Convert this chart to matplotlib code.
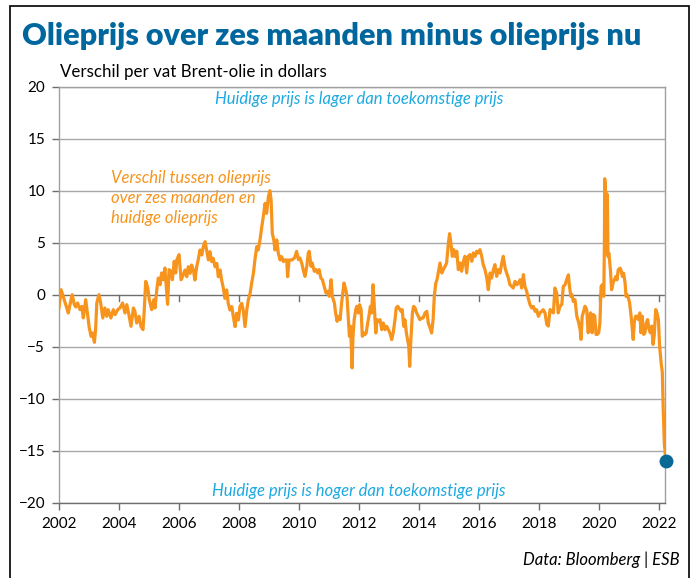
import matplotlib
matplotlib.use("Agg")
import matplotlib.pyplot as plt
from matplotlib.patches import Rectangle

# difference (USD/barrel) between 6-month Brent futures and spot
years = [
    2002.00, 2002.07, 2002.14, 2002.26, 2002.31, 2002.40, 2002.44, 2002.51, 2002.56, 2002.62,
    2002.70, 2002.76, 2002.81, 2002.89, 2002.96, 2003.01, 2003.07, 2003.12, 2003.18, 2003.22,
    2003.26, 2003.33, 2003.39, 2003.46, 2003.53, 2003.59, 2003.64, 2003.73, 2003.81, 2003.87,
    2003.96, 2004.03, 2004.12, 2004.20, 2004.26, 2004.33, 2004.40, 2004.48, 2004.53, 2004.59,
    2004.67, 2004.73, 2004.80, 2004.84, 2004.89, 2004.96, 2005.01, 2005.09, 2005.16, 2005.20,
    2005.26, 2005.31, 2005.37, 2005.42, 2005.48, 2005.53, 2005.62, 2005.67, 2005.73, 2005.78,
    2005.84, 2005.89, 2005.93, 2006.00, 2006.07, 2006.14, 2006.20, 2006.26, 2006.31, 2006.37,
    2006.42, 2006.48, 2006.53, 2006.59, 2006.64, 2006.70, 2006.76, 2006.81, 2006.87, 2006.92,
    2006.98, 2007.03, 2007.09, 2007.14, 2007.20, 2007.26, 2007.31, 2007.37, 2007.42, 2007.48,
    2007.53, 2007.59, 2007.64, 2007.70, 2007.76, 2007.81, 2007.87, 2007.92, 2007.98, 2008.03,
    2008.09, 2008.14, 2008.20, 2008.26, 2008.31, 2008.37, 2008.42, 2008.48, 2008.53, 2008.59,
    2008.64, 2008.70, 2008.76, 2008.81, 2008.87, 2008.92, 2008.98, 2009.03, 2009.07, 2009.11,
    2009.16, 2009.20, 2009.26, 2009.31, 2009.37, 2009.42, 2009.48, 2009.53, 2009.59, 2009.62,
    2009.67, 2009.76, 2009.84, 2009.87, 2009.92, 2009.98, 2010.03, 2010.09, 2010.14, 2010.20,
    2010.26, 2010.31, 2010.34, 2010.40, 2010.44, 2010.51, 2010.56, 2010.62, 2010.67, 2010.73,
    2010.78, 2010.84, 2010.90, 2010.96, 2011.01, 2011.07, 2011.11, 2011.18, 2011.22, 2011.27,
    2011.31, 2011.37, 2011.42, 2011.46, 2011.50, 2011.56, 2011.60, 2011.64, 2011.68, 2011.72,
    2011.77, 2011.80, 2011.84, 2011.89, 2011.93, 2011.98, 2012.02, 2012.07, 2012.11, 2012.16,
    2012.20, 2012.24, 2012.29, 2012.33, 2012.38, 2012.42, 2012.47, 2012.51, 2012.56, 2012.60,
    2012.64, 2012.70, 2012.76, 2012.81, 2012.87, 2012.92, 2012.98, 2013.03, 2013.09, 2013.14,
    2013.20, 2013.24, 2013.29, 2013.33, 2013.40, 2013.44, 2013.49, 2013.53, 2013.58, 2013.62,
    2013.66, 2013.69, 2013.73, 2013.78, 2013.82, 2013.87, 2013.92, 2013.98, 2014.03, 2014.09,
    2014.14, 2014.20, 2014.26, 2014.31, 2014.37, 2014.42, 2014.47, 2014.51, 2014.56, 2014.60,
    2014.64, 2014.70, 2014.76, 2014.81, 2014.87, 2014.92, 2014.98, 2015.02, 2015.07, 2015.11,
    2015.16, 2015.20, 2015.26, 2015.31, 2015.37, 2015.42, 2015.48, 2015.53, 2015.59, 2015.64,
    2015.70, 2015.76, 2015.81, 2015.87, 2015.92, 2015.98, 2016.03, 2016.09, 2016.14, 2016.20,
    2016.26, 2016.31, 2016.37, 2016.42, 2016.48, 2016.53, 2016.59, 2016.64, 2016.70, 2016.76,
    2016.81, 2016.87, 2016.92, 2016.98, 2017.03, 2017.09, 2017.14, 2017.20, 2017.26, 2017.31,
    2017.37, 2017.42, 2017.48, 2017.53, 2017.59, 2017.64, 2017.70, 2017.76, 2017.81, 2017.87,
    2017.92, 2017.98, 2018.03, 2018.09, 2018.14, 2018.20, 2018.26, 2018.31, 2018.37, 2018.42,
    2018.48, 2018.53, 2018.59, 2018.64, 2018.70, 2018.76, 2018.81, 2018.87, 2018.92, 2018.98,
    2019.01, 2019.06, 2019.10, 2019.14, 2019.20, 2019.26, 2019.31, 2019.37, 2019.40, 2019.44,
    2019.49, 2019.53, 2019.59, 2019.64, 2019.68, 2019.72, 2019.77, 2019.81, 2019.86, 2019.90,
    2019.94, 2019.99, 2020.03, 2020.07, 2020.11, 2020.16, 2020.18, 2020.19, 2020.21, 2020.22,
    2020.24, 2020.26, 2020.28, 2020.30, 2020.33, 2020.38, 2020.42, 2020.47, 2020.51, 2020.56,
    2020.60, 2020.64, 2020.70, 2020.73, 2020.78, 2020.82, 2020.87, 2020.90, 2020.93, 2020.98,
    2021.02, 2021.07, 2021.11, 2021.14, 2021.18, 2021.22, 2021.27, 2021.31, 2021.36, 2021.40,
    2021.44, 2021.49, 2021.53, 2021.58, 2021.62, 2021.67, 2021.71, 2021.76, 2021.80, 2021.84,
    2021.89, 2021.93, 2021.98, 2022.02, 2022.07, 2022.11, 2022.14, 2022.18, 2022.20, 2022.22,
]
spread = [
    -1.25, 0.51, -0.13, -1.25, -1.73, -0.45, 0.03, -0.93, -1.15, -0.77,
    -1.41, -1.09, -2.21, -0.45, -2.05, -3.17, -3.97, -3.65, -4.55, -3.33,
    -0.77, 0.03, -0.77, -2.21, -1.25, -2.05, -1.41, -2.21, -1.41, -1.89,
    -1.41, -1.25, -0.77, -1.73, -0.93, -1.89, -3.01, -1.25, -1.57, -2.69,
    -2.05, -3.01, -3.33, -1.57, 1.31, 0.67, -0.45, -1.41, -0.45, -1.25,
    0.51, 1.63, 0.99, 2.12, 1.47, 2.60, -0.90, 2.44, 2.28, 1.47,
    3.24, 2.12, 3.40, 3.88, 1.47, 1.92, 2.40, 1.76, 2.72, 2.08,
    2.88, 2.40, 1.44, 2.72, 3.37, 4.33, 3.85, 4.65, 5.13, 4.33,
    3.37, 4.17, 3.21, 3.53, 2.72, 3.04, 1.76, 2.40, 1.44, 0.64,
    -0.32, 0.48, -0.80, -1.44, -1.12, -2.08, -3.04, -1.76, -2.40, -1.12,
    -0.80, -1.44, -3.04, -1.44, -0.48, 0.16, 1.12, 2.08, 3.37, 4.65,
    4.33, 5.29, 6.57, 7.53, 8.81, 7.85, 9.46, 10.03, 9.13, 5.93,
    5.29, 4.33, 5.29, 4.01, 3.37, 3.69, 3.21, 3.37, 3.37, 1.76,
    3.37, 3.37, 3.53, 3.72, 4.20, 3.40, 3.56, 3.08, 2.44, 1.79,
    2.76, 4.04, 4.20, 2.76, 3.08, 2.28, 2.44, 2.12, 2.44, 1.63,
    1.47, 0.83, 0.19, 0.35, -0.13, 1.47, -0.13, -0.77, -1.73, -2.53,
    -2.05, -2.37, -0.77, 0.19, 1.15, 0.51, -0.13, -2.05, -3.97, -3.01,
    -7.01, -3.97, -2.37, -1.41, -1.09, -1.73, -0.93, -1.41, -3.97, -3.65,
    -3.81, -3.65, -2.69, -2.05, -1.09, -1.73, 0.99, -1.09, -3.65, -2.37,
    -2.53, -2.37, -3.33, -2.69, -3.33, -3.01, -3.33, -3.65, -4.29, -3.65,
    -2.37, -1.25, -1.09, -1.25, -1.57, -1.41, -3.01, -2.37, -3.65, -4.29,
    -4.94, -6.86, -4.29, -1.73, -1.09, -1.25, -1.73, -2.05, -2.37, -2.21,
    -2.21, -1.73, -1.57, -2.69, -3.17, -3.65, -2.37, -0.13, 1.15, 1.47,
    2.12, 3.08, 2.12, 2.44, 2.76, 3.08, 5.00, 5.90, 4.84, 3.72,
    4.36, 3.72, 4.20, 2.44, 3.08, 2.28, 3.24, 3.72, 2.12, 3.72,
    3.88, 3.24, 4.04, 3.72, 4.20, 4.04, 4.36, 3.72, 2.92, 2.44,
    1.63, 0.51, 2.12, 1.63, 2.44, 2.92, 1.79, 2.44, 2.12, 3.08,
    3.72, 2.60, 2.12, 1.63, 0.99, 0.83, 0.67, 1.31, 0.99, 1.15,
    1.47, 0.67, 1.96, 0.83, 0.35, -0.29, -0.93, -1.25, -1.09, -1.57,
    -1.41, -2.05, -1.73, -1.57, -1.41, -1.72, -2.83, -2.99, -1.40, -1.56,
    -1.72, 0.67, 0.19, -1.72, -1.08, -0.92, 0.83, 0.99, 1.46, 1.94,
    0.99, -0.13, 0.03, -0.61, -0.45, -2.04, -2.52, -3.31, -4.27, -2.04,
    -1.56, -1.08, -1.40, -3.63, -2.04, -1.72, -3.63, -1.88, -2.04, -3.79,
    -3.79, -3.63, -2.68, 0.83, 0.99, -0.13, 5.00, 11.18, 10.50, 4.00,
    8.00, 9.75, 9.50, 3.69, 4.01, 2.42, 0.51, 1.15, 1.46, 1.78,
    1.46, 2.42, 2.58, 2.42, 1.78, 2.10, 1.15, -0.13, 0.03, -0.29,
    -0.76, -2.04, -3.31, -4.27, -2.52, -2.04, -2.04, -2.36, -1.72, -3.63,
    -2.04, -3.79, -3.63, -2.68, -2.36, -3.31, -3.63, -2.99, -4.75, -3.95,
    -1.40, -1.72, -2.36, -4.90, -6.50, -7.45, -10.96, -14.46, -14.94, -15.99,
]
xticks = [2002, 2004, 2006, 2008, 2010, 2012, 2014, 2016, 2018, 2020, 2022]
yticks = [-20, -15, -10, -5, 0, 5, 10, 15, 20]

orange = '#f7941d'
darkblue = '#00679e'
lightblue = '#1ea9e1'
plt.rcParams['font.family'] = ['Lato', 'DejaVu Sans']

fig = plt.figure(figsize=(6.96, 5.78), dpi=100)
ax = fig.add_axes([59/696, 1-503/578, 606/696, 416/578])

ax.plot(years, spread, color=orange, lw=2.3, solid_joinstyle='round', zorder=3)
ax.plot(years[-1], spread[-1], 'o', color='#0a6894', ms=9, zorder=4, clip_on=False)

ax.set_xlim(2002, 2022.2)
ax.set_ylim(-20, 20)
ax.set_xticks(xticks)
ax.set_yticks(yticks)
ax.set_yticklabels([str(v).replace('-', '\u2212') for v in yticks])
for v in yticks:
    ax.axhline(v, color='#6e6e6e' if v == 0 else '#a8a8a8', lw=1.0, zorder=1)
# small ticks hanging under the zero line
for t in xticks:
    ax.plot([t, t], [0, -0.55], color='#6e6e6e', lw=1.0, zorder=1)
for s in ax.spines.values():
    s.set_color('#a0a0a0')
    s.set_linewidth(1.0)
ax.spines['bottom'].set_color('#6e6e6e')
ax.tick_params(axis='both', colors='#6e6e6e', length=5, width=1.0, labelsize=11,
               labelcolor='black', pad=5)

ax.text(2012, 18.8, 'Huidige prijs is lager dan toekomstige prijs', color=lightblue,
        fontsize=12, style='italic', ha='center', va='center')
ax.text(2012, -18.8, 'Huidige prijs is hoger dan toekomstige prijs', color=lightblue,
        fontsize=12, style='italic', ha='center', va='center')
ax.text(2003.73, 12.0, 'Verschil tussen olieprijs\nover zes maanden en\nhuidige olieprijs',
        color=orange, fontsize=12, style='italic', ha='left', va='top', linespacing=1.3)

fig.text(22/696, 1-36/578, 'Olieprijs over zes maanden minus olieprijs nu', color=darkblue,
         fontsize=22, fontweight='heavy', ha='left', va='center')
fig.text(60/696, 1-72/578, 'Verschil per vat Brent-olie in dollars', color='black',
         fontsize=12.2, ha='left', va='center')
fig.text(680/696, 1-560/578, 'Data: Bloomberg | ESB', color='black', fontsize=12,
         style='italic', ha='right', va='center')

fig.patches.append(Rectangle((10/696, -0.05), 679/696, 1-6/578+0.05, transform=fig.transFigure,
                             fill=False, edgecolor='black', lw=1.2))

fig.savefig('out.png', dpi=100)
